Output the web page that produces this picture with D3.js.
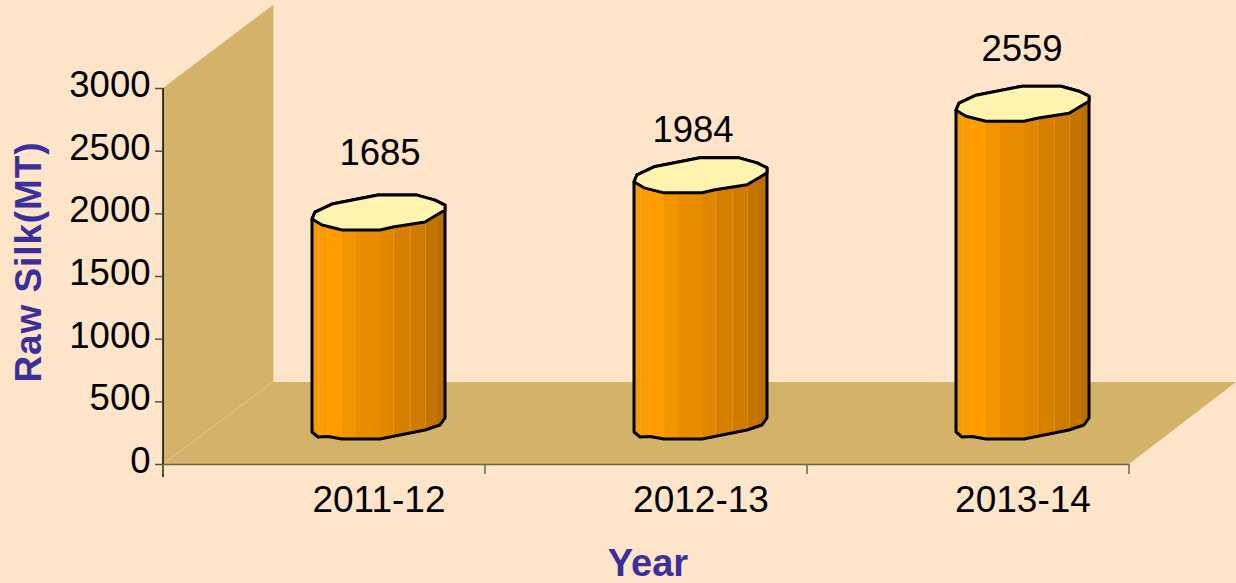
<!DOCTYPE html>
<html><head><meta charset="utf-8">
<script src="https://cdn.jsdelivr.net/npm/d3@7"></script>
<style>html,body{margin:0;padding:0;background:#fee4c9;overflow:hidden}svg{display:block}text{font-family:"Liberation Sans",Arial,sans-serif}</style>
</head><body><svg id="c" width="1236" height="583"></svg>
<script>
const categories = ["2011-12","2012-13","2013-14"];
const values = [1685,1984,2559];
const yTicks = [0,500,1000,1500,2000,2500,3000];
const yTitle = "Raw Silk(MT)";
const xTitle = "Year";

// layout
const W=1236,H=583,x0=163,x1=1129,y0=464,y3000=88,dx=110,dy=-82;
const svg=d3.select("#c");
const x=d3.scaleBand().domain(categories).range([x0,x1]).padding(0);
const y=d3.scaleLinear().domain([0,3000]).range([y0,y3000]);
const wallC="#d4b26a",bg="#fee4c9",titleC="#3b2f9b";
svg.append("rect").attr("width",W).attr("height",H).attr("fill",bg);
const poly=p=>d3.line()(p)+"Z";
svg.append("path").attr("d",poly([[x0,y3000],[x0+dx+0,5],[x0+dx,y0+dy],[x0,y0]])).attr("fill",wallC);
svg.append("path").attr("d",poly([[x0,y0],[x0+dx,y0+dy],[1236,y0+dy],[x1,y0]])).attr("fill",wallC);
svg.append("line").attr("x1",x0).attr("y1",y0).attr("x2",x0+dx).attr("y2",y0+dy).attr("stroke","#e2c68c").attr("stroke-width",1);
svg.append("line").attr("x1",x0+dx+.5).attr("y1",5).attr("x2",x0+dx+.5).attr("y2",y0+dy).attr("stroke","#ecd3a4").attr("stroke-width",1);

// column shape, offsets from column left / front base / top
const colW=133, colOff=54.5, base=25, shrink=0.994;
const topBack=[[0,-11],[3,-18],[20,-26],[66,-35],[105,-35],[123,-30],[133,-25]];
const topFront=[[133,-20],[113,-8],[81,-3],[68,0],[30,0],[10,-5],[0,-11]];
const botFront=[[0,-7],[6,-2],[16,-2.5],[30,0],[68,0],[113,-9],[128,-14],[133,-21]];
const stripes=[[0,6,"#f69a05"],[6,15,"#fb9c02"],[15,30,"#ff9c00"],[30,44,"#f29400"],[44,68,"#ea8c00"],[68,81,"#e08600"],[81,98,"#d78000"],[98,113,"#ce7b00"],[113,125,"#c47500"],[125,133,"#ba6f00"]];
const lights=[6,15,81,98,113];
const defs=svg.append("defs");
const g=svg.selectAll("g.col").data(values).join("g").attr("class","col");
g.each(function(v,i){
  const s=d3.select(this);
  const L=x(categories[i])+x.bandwidth()/2+colOff-colW/2;
  const B=y0-base, T=B-(y0-y(v))*shrink+1;
  const abs=(pts,Y)=>pts.map(p=>[L+p[0],Y+p[1]]);
  const bodyPts=[...abs(topBack,T),...abs(botFront.slice().reverse(),B)];
  defs.append("clipPath").attr("id","cl"+i).append("path").attr("d",poly(bodyPts));
  const b=s.append("g").attr("clip-path",`url(#cl${i})`);
  stripes.forEach(t=>b.append("rect").attr("x",L+t[0]).attr("width",t[1]-t[0]).attr("y",T-40).attr("height",B-T+60).attr("fill",t[2]));
  lights.forEach(l=>b.append("line").attr("x1",L+l+.5).attr("x2",L+l+.5).attr("y1",T-40).attr("y2",B+10).attr("stroke","#f2b14a").attr("stroke-opacity",.4).attr("stroke-width",1));
  s.append("path").attr("d",poly(bodyPts)).attr("fill","none").attr("stroke","#000").attr("stroke-width",3).attr("stroke-linejoin","round");
  s.append("path").attr("d",poly([...abs(topBack,T),...abs(topFront,T)])).attr("fill","#fff3b0").attr("stroke","#000").attr("stroke-width",3).attr("stroke-linejoin","round");
});

// value labels
const labelRise=[65,51,60], labelShift=[56,47,54];
svg.selectAll("text.val").data(values).join("text").attr("class","val")
 .attr("x",(d,i)=>x(categories[i])+x.bandwidth()/2+labelShift[i])
 .attr("y",(d,i)=>y0-base-(y0-y(d))*shrink-labelRise[i]+1)
 .attr("text-anchor","middle").attr("font-size",36.5).attr("fill","#000").text(d=>d);

// axes
const ax=svg.append("g").attr("transform",`translate(${x0},0)`).call(d3.axisLeft(y).tickValues(yTicks).tickSize(8).tickPadding(4.5).tickFormat(d3.format("d")));
ax.select(".domain").attr("stroke","#000").attr("stroke-width",1.5).attr("d",`M0,${y3000}V${y0+13}`);
ax.selectAll(".tick line").attr("stroke","#55503f").attr("stroke-width",1.5);
ax.selectAll(".tick text").attr("font-size",36.5).attr("fill","#000").attr("font-family","Liberation Sans").attr("dy","0.23em");
const xTickVals=[x0,...categories.map(c=>x(c)+x.bandwidth())];
svg.append("g").selectAll("line").data(xTickVals).join("line").attr("x1",d=>d).attr("x2",d=>d).attr("y1",y0).attr("y2",y0+10).attr("stroke","#6b6450").attr("stroke-width",1.5);
svg.append("line").attr("x1",x0).attr("x2",x1).attr("y1",y0+.5).attr("y2",y0+.5).attr("stroke","#6b6450").attr("stroke-width",1.5);
svg.selectAll("text.cat").data(categories).join("text").attr("class","cat")
 .attr("x",(d,i)=>x(d)+x.bandwidth()/2+55).attr("y",512).attr("text-anchor","middle").attr("font-size",37).attr("fill","#000").text(d=>d);
svg.append("text").attr("x",648).attr("y",576).attr("text-anchor","middle").attr("font-size",38).attr("font-weight","bold").attr("fill",titleC).text(xTitle);
svg.append("text").attr("transform","translate(41,262) rotate(-90)").attr("text-anchor","middle").attr("font-size",37).attr("font-weight","bold").attr("letter-spacing",0.9).attr("fill",titleC).text(yTitle);
</script></body></html>
